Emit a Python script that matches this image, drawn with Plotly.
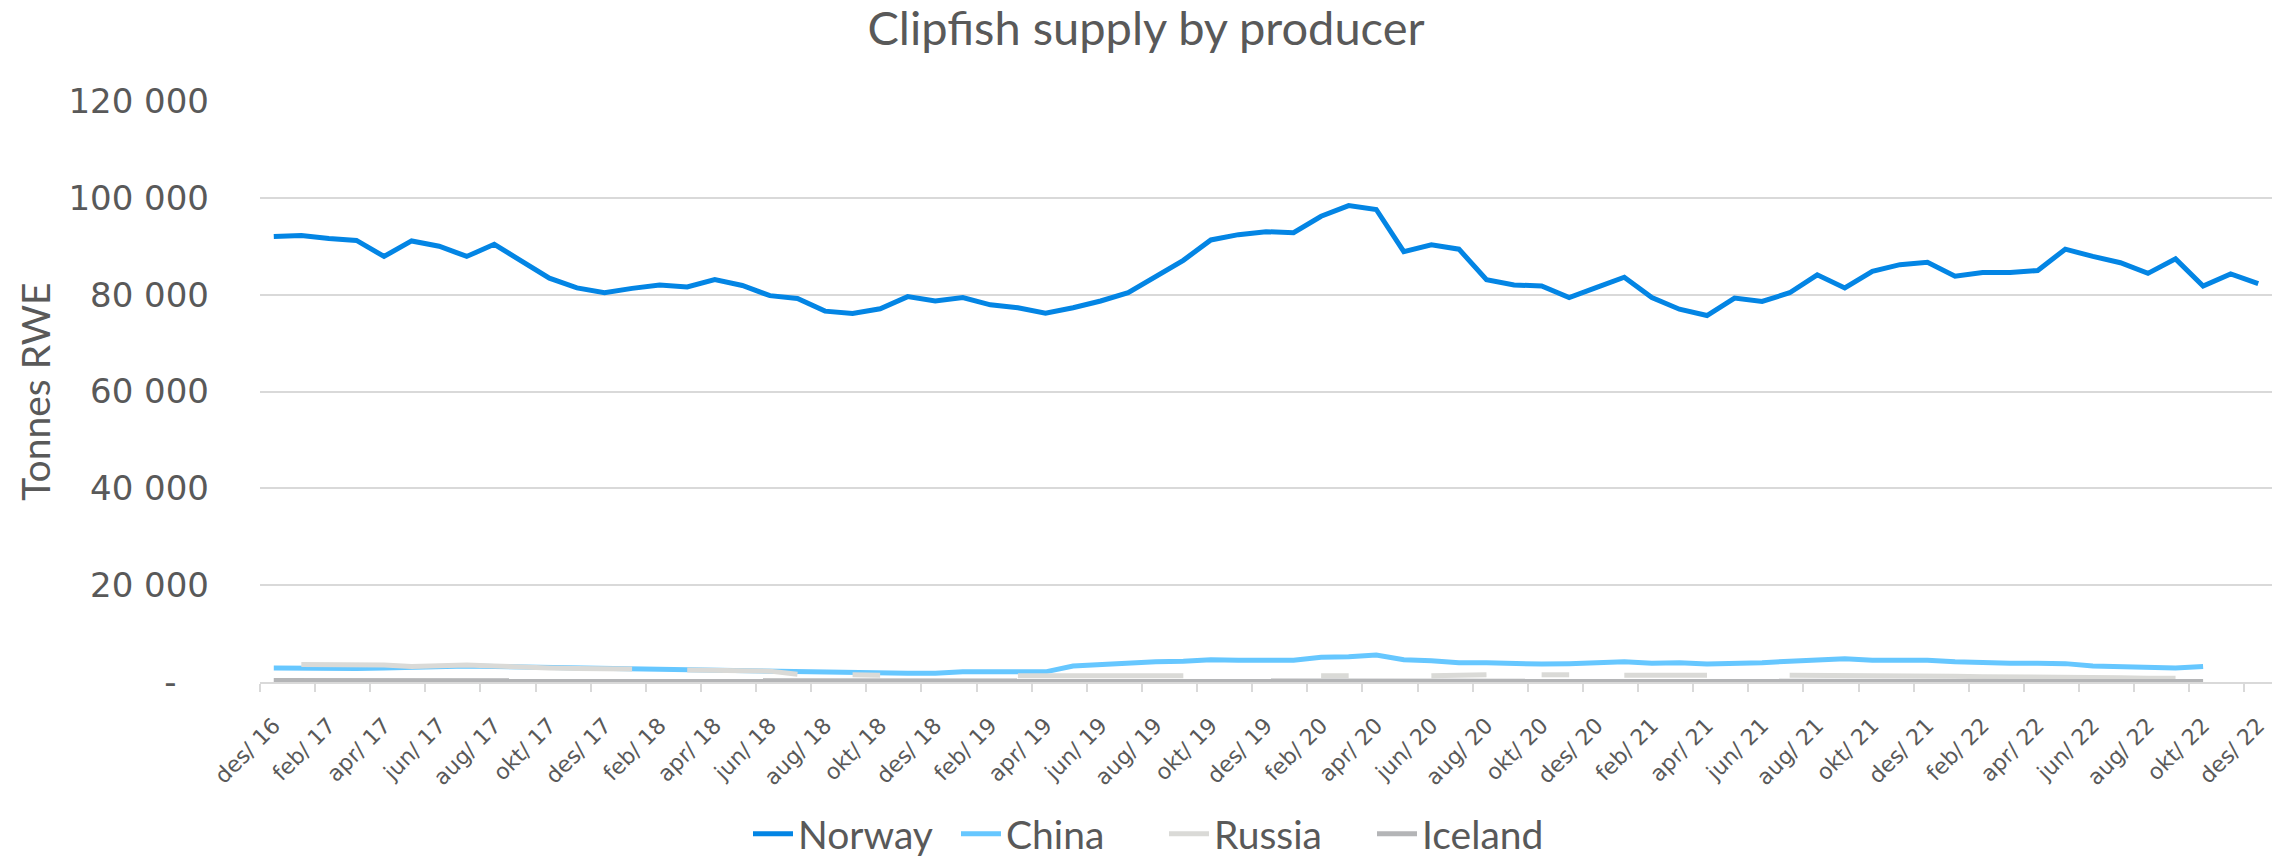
import plotly.graph_objects as go

categories = [
    "des/ 16", "jan/ 17", "feb/ 17", "mar/ 17", "apr/ 17", "mai/ 17", "jun/ 17", "jul/ 17", "aug/ 17", "sep/ 17", "okt/ 17", "nov/ 17",
    "des/ 17", "jan/ 18", "feb/ 18", "mar/ 18", "apr/ 18", "mai/ 18", "jun/ 18", "jul/ 18", "aug/ 18", "sep/ 18", "okt/ 18", "nov/ 18",
    "des/ 18", "jan/ 19", "feb/ 19", "mar/ 19", "apr/ 19", "mai/ 19", "jun/ 19", "jul/ 19", "aug/ 19", "sep/ 19", "okt/ 19", "nov/ 19",
    "des/ 19", "jan/ 20", "feb/ 20", "mar/ 20", "apr/ 20", "mai/ 20", "jun/ 20", "jul/ 20", "aug/ 20", "sep/ 20", "okt/ 20", "nov/ 20",
    "des/ 20", "jan/ 21", "feb/ 21", "mar/ 21", "apr/ 21", "mai/ 21", "jun/ 21", "jul/ 21", "aug/ 21", "sep/ 21", "okt/ 21", "nov/ 21",
    "des/ 21", "jan/ 22", "feb/ 22", "mar/ 22", "apr/ 22", "mai/ 22", "jun/ 22", "jul/ 22", "aug/ 22", "sep/ 22", "okt/ 22", "nov/ 22",
    "des/ 22",
]

norway = [
    92000, 92200, 91600, 91200, 87900, 91100, 90000, 87900, 90400, 86800, 83400, 81400,
    80400, 81300, 82000, 81600, 83100, 81900, 79800, 79200, 76600, 76100, 77100, 79600,
    78700, 79400, 77900, 77300, 76200, 77300, 78700, 80400, 83800, 87100, 91300, 92400,
    93000, 92800, 96200, 98400, 97600, 88900, 90300, 89400, 83100, 82000, 81800, 79400,
    81500, 83600, 79400, 77000, 75700, 79300, 78600, 80400, 84100, 81400, 84800, 86200,
    86700, 83800, 84600, 84600, 85000, 89400, 87900, 86600, 84400, 87400, 81800, 84300,
    82300,
]

china = [
    2900, 2800, 2800, 2800, 2900, 3100, 3300, 3300, 3200, 3100, 3000, 2900,
    2800, 2700, 2600, 2500, 2500, 2400, 2300, 2100, 1900, 1900, 1800, 1800,
    1800, 2100, 2100, 2200, 2100, 3300, 3600, 4000, 4200, 4300, 4600, 4500,
    4500, 4500, 5100, 5200, 5600, 4600, 4400, 4000, 4000, 3800, 3700, 3800,
    3900, 4200, 3900, 4000, 3700, 3800, 4000, 4300, 4500, 4800, 4500, 4500,
    4500, 4200, 4000, 3900, 3900, 3800, 3300, 3100, 3100, 2900, 3200, None,
    None,
]

russia = [
    None, 3600, 3600, 3600, 3500, 3200, 3400, 3500, 3300, 3000, 2900, 2800,
    2700, 2700, None, 2500, 2450, 2400, 2250, 1600, None, 1500, 1400, None,
    None, None, None, 1300, 1300, 1300, 1300, 1300, 1300, 1300, None, None,
    None, None, 1300, 1300, None, None, 1300, 1350, 1500, None, 1500, 1500,
    None, 1400, 1400, 1400, 1400, None, None, 1400, 1400, 1400, 1300, 1300,
    1200, 1200, 1100, 1100, 1000, 1000, 900, 900, 800, 800, None, None,
    None,
]

iceland = [
    300, 300, 300, 300, 300, 300, 300, 300, 300, 300, 300, 300,
    300, 300, 300, 250, 250, 250, 250, 250, 250, 250, 250, 250,
    200, 200, 200, 200, 200, 200, 200, 200, 200, 200, 200, 200,
    150, 150, 150, 150, 150, 150, 150, 150, 150, 150, 150, 150,
    100, 100, 100, 100, 100, 100, 100, 100, 100, 100, 100, 100,
    100, 100, 100, 100, 100, 100, 100, 100, 100, 100, 100, None,
    None,
]

series_names = ["Norway", "China", "Russia", "Iceland"]
series_colors = ["#0385E4", "#66C7FF", "#DADAD7", "#B4B5B7"]

y_tick_vals = [0, 20000, 40000, 60000, 80000, 100000, 120000]
y_tick_text = ["-\u00a0\u00a0\u00a0", "20 000", "40 000", "60 000", "80 000", "100 000", "120 000"]

idx = list(range(len(categories)))
label_idx = idx[::2]
label_text = categories[::2]

TEXT = "#595959"
GRID = "#D9D9D9"
NARROW = "Lato, 'Liberation Sans Narrow', sans-serif"
WIDE = "'DejaVu Sans', sans-serif"

fig = go.Figure()
for name, vals, col in zip(series_names, [norway, china, russia, iceland], series_colors):
    fig.add_trace(go.Scatter(
        x=idx, y=vals, name=name, mode="lines",
        line=dict(color=col, width=5),
        connectgaps=False,
    ))

fig.update_layout(
    width=2292, height=859,
    paper_bgcolor="white", plot_bgcolor="white",
    margin=dict(l=260, r=20, t=101, b=171),
    title=dict(
        text="Clipfish supply by producer",
        x=0.5, xref="container", xanchor="center",
        y=1 - 29 / 859, yref="container", yanchor="middle",
        font=dict(family=NARROW, size=47, color=TEXT),
    ),
    legend=dict(
        orientation="h",
        xref="container", yref="container",
        x=0.5 + 18 / 2292, xanchor="center", y=1 - 834 / 859, yanchor="middle",
        font=dict(family=NARROW, size=39, color=TEXT),
        itemwidth=40,
        entrywidth=153, entrywidthmode="pixels",
        tracegroupgap=0,
    ),
    showlegend=True,
)

fig.update_xaxes(
    range=[-0.5, len(categories) - 0.5],
    tickmode="array", tickvals=label_idx, ticktext=label_text,
    tickangle=-45,
    tickfont=dict(family=WIDE, size=22, color=TEXT),
    ticks="", showgrid=False, zeroline=False,
    showline=True, linecolor=GRID, linewidth=2,
    minor=dict(tickmode="linear", tick0=-0.5, dtick=2, ticks="outside",
               ticklen=8, tickcolor=GRID, tickwidth=2, showgrid=False),
    ticklabelstandoff=20,
)

fig.update_yaxes(
    range=[0, 120000],
    tickmode="array", tickvals=y_tick_vals, ticktext=y_tick_text,
    tickfont=dict(family=WIDE, size=34, color=TEXT),
    showgrid=True, gridcolor=GRID, gridwidth=2,
    zeroline=False, showline=False, ticks="",
    ticklabelstandoff=50,
    title=dict(text="Tonnes RWE", font=dict(family=NARROW, size=39, color=TEXT), standoff=5),
)

fig.write_html(
    "out.html",
    config={"displayModeBar": False},
    post_script="document.body.style.margin='0';document.body.style.overflow='hidden';",
)
